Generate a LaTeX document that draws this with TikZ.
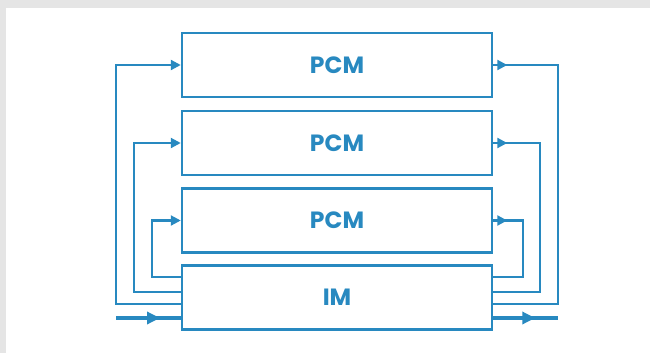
\documentclass[tikz,border=0pt]{standalone}
\usepackage{fontspec}
\setmainfont{Poppins}
\usetikzlibrary{arrows.meta}
\definecolor{wire}{RGB}{40,137,192}

\begin{document}
\begin{tikzpicture}[x=1pt,y=-1pt,line width=2.2pt,draw=wire,
    tip/.style={-{Triangle[length=10pt,width=10pt]}},
    bigtip/.style={-{Triangle[length=13pt,width=12pt]}}]
\fill[black!10] (0,0) rectangle (650,353);
\fill[white] (6,8) rectangle (650,353);
\foreach \y/\n/\t in {65/1/PCM, 143/2/PCM, 220.5/3/PCM, 297.5/4/IM}
    \node[draw=wire,line width=2.5pt,minimum width=310pt,minimum height=64pt,
          text=wire,font=\bfseries\fontsize{23.5}{23.5}\selectfont] (p\n)
        at (337,\y) {\t};
% feedback wires
\foreach \n/\xl/\xr/\y in {1/116/558/304, 2/134/540/292, 3/152/523/277} {
    \draw[tip] (p4.west |- 0,\y) -- (\xl,\y) |- (p\n.west);
    \draw (p\n.east) -| (\xr,\y) -- (p4.east |- 0,\y);
    \draw[tip] (p\n.east) -- ++(14,0);
}
% in and out
\coordinate (in) at (116,318);
\coordinate (out) at (558,318);
\draw[line width=3.5pt] (in) -- (p4.west |- in);
\draw[line width=3.5pt,bigtip] (in) -- ++(44,0);
\draw[line width=3.5pt] (p4.east |- out) -- (out);
\draw[line width=3.5pt,bigtip] (p4.east |- out) -- ++(42,0);
\end{tikzpicture}
\end{document}
